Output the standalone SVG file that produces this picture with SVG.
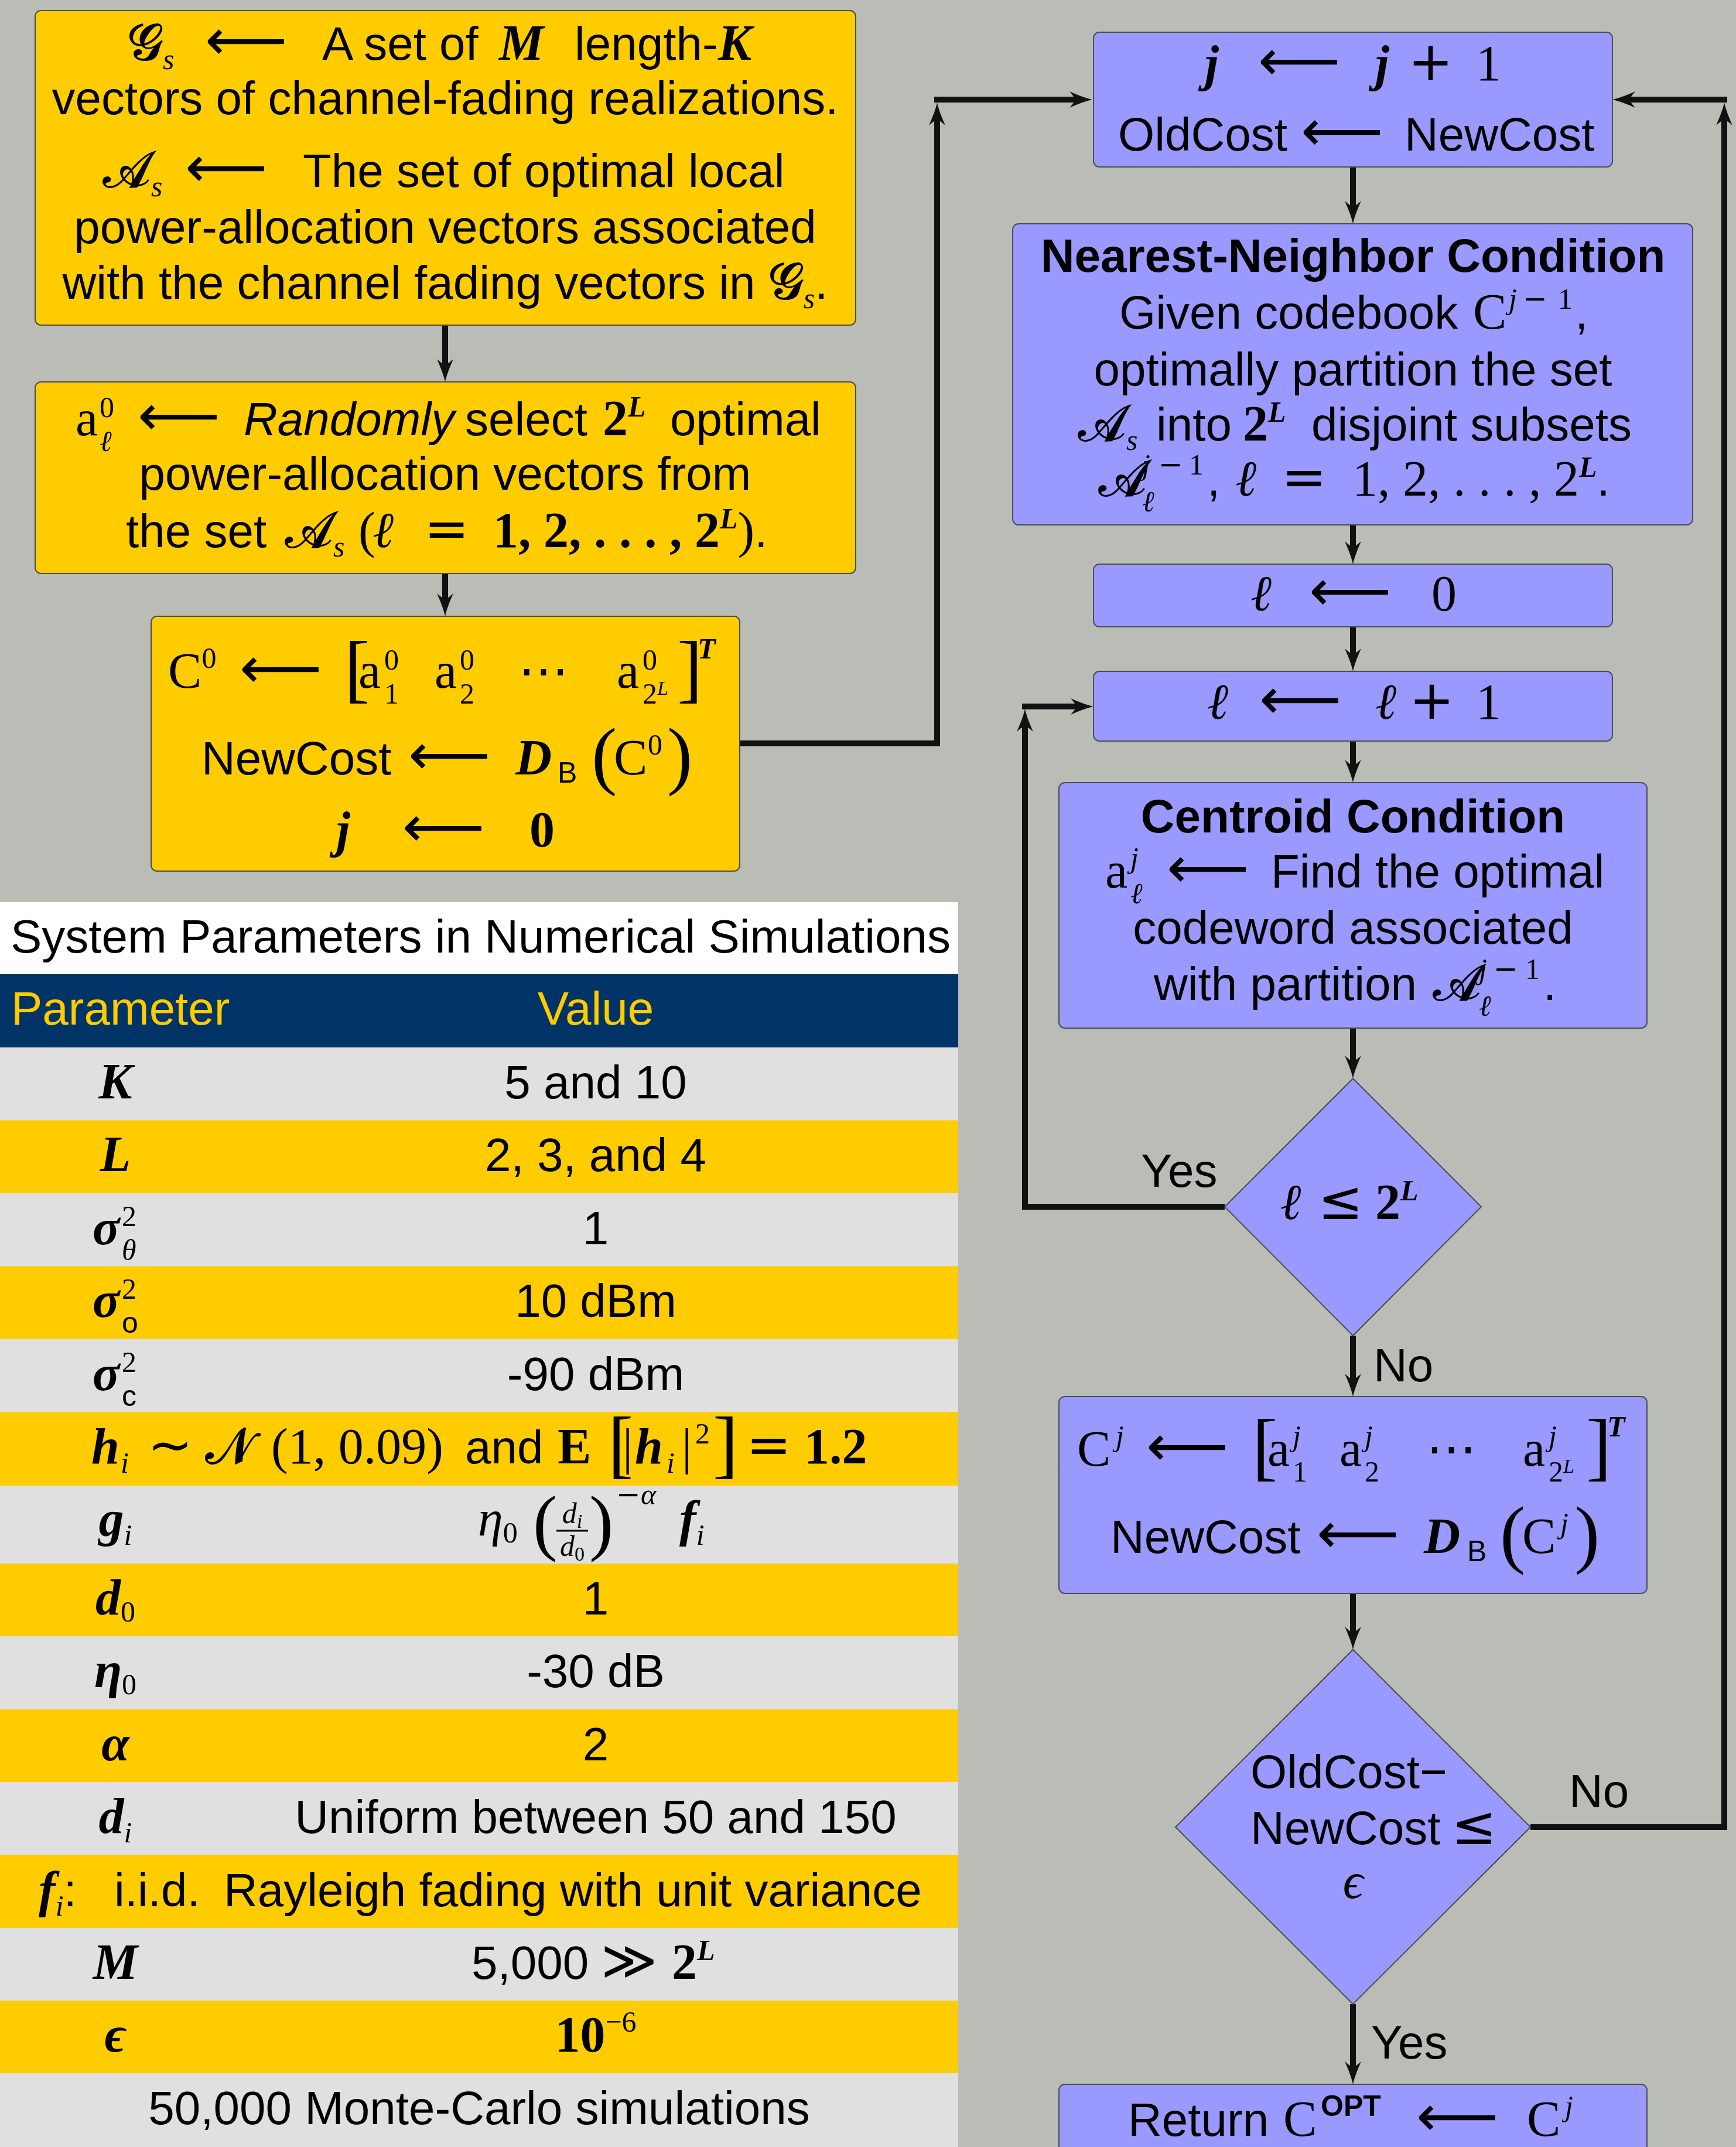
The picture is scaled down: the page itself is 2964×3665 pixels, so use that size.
<svg xmlns="http://www.w3.org/2000/svg" width="2964" height="3665" viewBox="0 0 2964 3665">
<defs>
<style>
.t{font-family:"Liberation Sans",Arial,sans-serif;font-size:80px;fill:#000}
.b{font-weight:bold}
.it{font-style:italic}
.mi{font-family:"Liberation Serif","DejaVu Serif",serif;font-style:italic;font-size:86px}
.mbi{font-family:"Liberation Serif","DejaVu Serif",serif;font-style:italic;font-weight:bold;font-size:86px}
.mr{font-family:"Liberation Serif","DejaVu Serif",serif;font-size:86px}
.mrb{font-family:"Liberation Serif","DejaVu Serif",serif;font-weight:bold;font-size:86px}
.op{font-family:"DejaVu Sans",sans-serif;font-size:92px}
.ar{font-family:"DejaVu Sans",sans-serif;font-size:98px}
.cal{font-family:"DejaVu Sans","DejaVu Serif","Noto Sans",serif;font-size:86px}
.s{font-size:50px}
.ss{font-size:34px}
.big{font-size:130px}
.yb{fill:#ffcc00;stroke:#4d4d4d;stroke-width:2}
.bb{fill:#9999ff;stroke:#4d4d4d;stroke-width:2}
.c{fill:none;stroke:#111;stroke-width:10}
.gr{fill:#e0e0e0}
.ye{fill:#ffcc00}
</style>
<marker id="ah" markerUnits="userSpaceOnUse" markerWidth="42" markerHeight="30" refX="10" refY="14" orient="auto" overflow="visible">
<path d="M40,14 C30,12 14,6 1,0 C8,8 10,11 10,14 C10,17 8,20 1,28 C14,22 30,16 40,14 Z" fill="#111"/>
</marker>
</defs>
<rect x="0" y="0" width="2964" height="3665" fill="#babdb6"/>

<g id="connectors">
<line class="c" x1="760" y1="555" x2="760" y2="622" marker-end="url(#ah)"/>
<line class="c" x1="760" y1="979" x2="760" y2="1022" marker-end="url(#ah)"/>
<polyline class="c" points="1263,1269 1600,1269 1600,205" marker-end="url(#ah)"/>
<line class="c" x1="1595" y1="170" x2="1835" y2="170" marker-end="url(#ah)"/>
<line class="c" x1="2310" y1="285" x2="2310" y2="352" marker-end="url(#ah)"/>
<line class="c" x1="2310" y1="896" x2="2310" y2="933" marker-end="url(#ah)"/>
<line class="c" x1="2310" y1="1070" x2="2310" y2="1116" marker-end="url(#ah)"/>
<line class="c" x1="2310" y1="1265" x2="2310" y2="1306" marker-end="url(#ah)"/>
<line class="c" x1="2310" y1="1755" x2="2310" y2="1811" marker-end="url(#ah)"/>
<polyline class="c" points="2091,2060 1750,2060 1750,1240" marker-end="url(#ah)"/>
<line class="c" x1="1745" y1="1206" x2="1837" y2="1206" marker-end="url(#ah)"/>
<line class="c" x1="2310" y1="2280" x2="2310" y2="2354" marker-end="url(#ah)"/>
<line class="c" x1="2310" y1="2720" x2="2310" y2="2786" marker-end="url(#ah)"/>
<polyline class="c" points="2613,3119 2944,3119 2944,205" marker-end="url(#ah)"/>
<line class="c" x1="2949" y1="170" x2="2783" y2="170" marker-end="url(#ah)"/>
<line class="c" x1="2310" y1="3421" x2="2310" y2="3528" marker-end="url(#ah)"/>
<text class="t" x="1948" y="2026">Yes</text>
<text class="t" x="2345" y="2358">No</text>
<text class="t" x="2679" y="3085">No</text>
<text class="t" x="2341" y="3514">Yes</text>
</g>

<g id="init-sets">
<rect class="yb" x="60" y="18" width="1401" height="537" rx="10"/>
<text class="t" y="102"><tspan class="cal" x="218">𝓖</tspan><tspan class="mi s" baseline-shift="-16">s</tspan><tspan class="ar" x="350">⟵</tspan><tspan x="550">A set of</tspan><tspan class="mbi" x="852">M</tspan><tspan x="981">length-</tspan><tspan class="mbi" x="1226">K</tspan></text>
<text class="t" x="760" y="195" text-anchor="middle">vectors of channel-fading realizations.</text>
<text class="t" y="319"><tspan class="cal" x="175">𝓐</tspan><tspan class="mi s" baseline-shift="-16">s</tspan><tspan class="ar" x="316">⟵</tspan><tspan x="517">The set of optimal local</tspan></text>
<text class="t" x="760" y="415" text-anchor="middle">power-allocation vectors associated</text>
<text class="t" x="760" y="510" text-anchor="middle">with the channel fading vectors in <tspan class="cal">𝓖</tspan><tspan class="mi s" baseline-shift="-16">s</tspan>.</text>
</g>

<g id="init-codebook">
<rect class="yb" x="60" y="652" width="1401" height="327" rx="10"/>
<text class="t" y="743"><tspan class="mr" x="129">a</tspan><tspan class="mr s" x="170" baseline-shift="31">0</tspan><tspan class="mi s" x="170" baseline-shift="-27">ℓ</tspan><tspan class="ar" x="235">⟵</tspan><tspan class="it" x="416">Randomly</tspan><tspan x="794">select</tspan><tspan class="mrb" x="1029">2</tspan><tspan class="mbi s" baseline-shift="32">L</tspan><tspan x="1144">optimal</tspan></text>
<text class="t" x="760" y="836" text-anchor="middle">power-allocation vectors from</text>
<text class="t" y="934"><tspan x="215">the set</tspan><tspan class="cal" x="486">𝓐</tspan><tspan class="mi s" baseline-shift="-16">s</tspan><tspan class="mr" x="612">(</tspan><tspan class="mi" x="636">ℓ</tspan><tspan class="op" x="724">=</tspan><tspan class="mrb" x="842">1, 2, . . . , 2</tspan><tspan class="mbi s" baseline-shift="32">L</tspan><tspan class="mr">)</tspan>.</text>
</g>

<g id="init-c0">
<rect class="yb" x="258" y="1052" width="1005" height="435" rx="10"/>
<text class="t" y="1174"><tspan class="mr" x="287">C</tspan><tspan class="mr s" baseline-shift="34">0</tspan><tspan class="ar" x="409">⟵</tspan><tspan class="mr big" x="588" baseline-shift="-10">[</tspan><tspan class="mr" x="612">a</tspan><tspan class="mr s" x="656" baseline-shift="31">0</tspan><tspan class="mr s" x="656" baseline-shift="-27">1</tspan><tspan class="mr" x="742">a</tspan><tspan class="mr s" x="785" baseline-shift="31">0</tspan><tspan class="mr s" x="785" baseline-shift="-27">2</tspan><tspan class="mr" x="885">⋯</tspan><tspan class="mr" x="1053">a</tspan><tspan class="mr s" x="1097" baseline-shift="31">0</tspan><tspan class="mr s" x="1097" baseline-shift="-27">2</tspan><tspan class="mi ss" baseline-shift="-12">L</tspan><tspan class="mr big" x="1156" baseline-shift="-10">]</tspan><tspan class="mbi s" x="1191" baseline-shift="50">T</tspan></text>
<text class="t" y="1322"><tspan x="344">NewCost</tspan><tspan class="ar" x="697">⟵</tspan><tspan class="mbi" x="880">D</tspan><tspan class="s" x="952" baseline-shift="-14">B</tspan><tspan class="mr big" x="1010" baseline-shift="-10">(</tspan><tspan class="mr" x="1048">C</tspan><tspan class="mr s" x="1106" baseline-shift="34">0</tspan><tspan class="mr big" x="1139" baseline-shift="-10">)</tspan></text>
<text class="t" y="1445"><tspan class="mbi" x="574">j</tspan><tspan class="ar" x="687">⟵</tspan><tspan class="mrb" x="904">0</tspan></text>
</g>

<g id="iterate">
<rect class="bb" x="1867" y="55" width="886" height="230" rx="10"/>
<text class="t" y="137"><tspan class="mbi" x="2057">j</tspan><tspan class="ar" x="2148">⟵</tspan><tspan class="mbi" x="2348">j</tspan><tspan class="op" x="2404">+</tspan><tspan class="mr" x="2520">1</tspan></text>
<text class="t" y="257"><tspan x="1909">OldCost</tspan><tspan class="ar" x="2221">⟵</tspan><tspan x="2398">NewCost</tspan></text>
</g>

<g id="nearest-neighbor">
<rect class="bb" x="1729" y="382" width="1161" height="514" rx="10"/>
<text class="t b" x="2310" y="464" text-anchor="middle">Nearest-Neighbor Condition</text>
<text class="t" y="561"><tspan x="1911">Given codebook</tspan><tspan class="mr" x="2515">C</tspan><tspan class="mi s" x="2576" baseline-shift="34">j</tspan><tspan class="op s" x="2600" baseline-shift="34">−</tspan><tspan class="mr s" x="2660" baseline-shift="34">1</tspan><tspan x="2689">,</tspan></text>
<text class="t" x="2310" y="658" text-anchor="middle">optimally partition the set</text>
<text class="t" y="752"><tspan class="cal" x="1840">𝓐</tspan><tspan class="mi s" baseline-shift="-16">s</tspan><tspan x="1974">into</tspan><tspan class="mrb" x="2122">2</tspan><tspan class="mbi s" baseline-shift="32">L</tspan><tspan x="2239">disjoint subsets</tspan></text>
<text class="t" y="846"><tspan class="cal" x="1875">𝓐</tspan><tspan class="mi s" x="1950" baseline-shift="36">j</tspan><tspan class="op s" x="1978" baseline-shift="36">−</tspan><tspan class="mr s" x="2030" baseline-shift="36">1</tspan><tspan class="mi s" x="1950" baseline-shift="-27">ℓ</tspan><tspan x="2061">,</tspan><tspan class="mi" x="2109">ℓ</tspan><tspan class="op" x="2188">=</tspan><tspan class="mr" x="2309">1, 2, . . . , 2</tspan><tspan class="mbi s" baseline-shift="32">L</tspan>.</text>
</g>

<g id="l-reset">
<rect class="bb" x="1867" y="963" width="886" height="107" rx="10"/>
<text class="t" y="1042"><tspan class="mi" x="2135">ℓ</tspan><tspan class="ar" x="2235">⟵</tspan><tspan class="mr" x="2444">0</tspan></text>
</g>

<g id="l-increment">
<rect class="bb" x="1867" y="1146" width="886" height="119" rx="10"/>
<text class="t" y="1227"><tspan class="mi" x="2061">ℓ</tspan><tspan class="ar" x="2150">⟵</tspan><tspan class="mi" x="2348">ℓ</tspan><tspan class="op" x="2406">+</tspan><tspan class="mr" x="2520">1</tspan></text>
</g>

<g id="centroid">
<rect class="bb" x="1808" y="1336" width="1004" height="419" rx="10"/>
<text class="t b" x="2310" y="1421" text-anchor="middle">Centroid  Condition</text>
<text class="t" y="1515"><tspan class="mr" x="1887">a</tspan><tspan class="mi s" x="1930" baseline-shift="34">j</tspan><tspan class="mi s" x="1930" baseline-shift="-27">ℓ</tspan><tspan class="ar" x="1992">⟵</tspan><tspan x="2170">Find the optimal</tspan></text>
<text class="t" x="2310" y="1611" text-anchor="middle">codeword associated</text>
<text class="t" y="1707"><tspan x="1970">with partition</tspan><tspan class="cal" x="2446">𝓐</tspan><tspan class="mi s" x="2525" baseline-shift="36">j</tspan><tspan class="op s" x="2550" baseline-shift="36">−</tspan><tspan class="mr s" x="2604" baseline-shift="36">1</tspan><tspan class="mi s" x="2525" baseline-shift="-27">ℓ</tspan><tspan x="2635">.</tspan></text>
</g>

<g id="decision-l">
<polygon class="bb" points="2310,1841 2529,2060 2310,2280 2091,2060"/>
<text class="t" y="2081"><tspan class="mbi" x="2187">ℓ</tspan><tspan class="op" x="2250">≤</tspan><tspan class="mrb" x="2348">2</tspan><tspan class="mbi s" baseline-shift="32">L</tspan></text>
</g>

<g id="update-codebook">
<rect class="bb" x="1808" y="2384" width="1004" height="336" rx="10"/>
<text class="t" y="2502"><tspan class="mr" x="1839">C</tspan><tspan class="mi s" x="1905" baseline-shift="34">j</tspan><tspan class="ar" x="1957">⟵</tspan><tspan class="mr big" x="2138" baseline-shift="-10">[</tspan><tspan class="mr" x="2164">a</tspan><tspan class="mi s" x="2207" baseline-shift="34">j</tspan><tspan class="mr s" x="2207" baseline-shift="-27">1</tspan><tspan class="mr" x="2287">a</tspan><tspan class="mi s" x="2330" baseline-shift="34">j</tspan><tspan class="mr s" x="2330" baseline-shift="-27">2</tspan><tspan class="mr" x="2435">⋯</tspan><tspan class="mr" x="2600">a</tspan><tspan class="mi s" x="2644" baseline-shift="34">j</tspan><tspan class="mr s" x="2644" baseline-shift="-27">2</tspan><tspan class="mi ss" baseline-shift="-12">L</tspan><tspan class="mr big" x="2708" baseline-shift="-10">]</tspan><tspan class="mbi s" x="2744" baseline-shift="50">T</tspan></text>
<text class="t" y="2651"><tspan x="1896">NewCost</tspan><tspan class="ar" x="2248">⟵</tspan><tspan class="mbi" x="2431">D</tspan><tspan class="s" x="2505" baseline-shift="-14">B</tspan><tspan class="mr big" x="2561" baseline-shift="-10">(</tspan><tspan class="mr" x="2599">C</tspan><tspan class="mi s" x="2664" baseline-shift="34">j</tspan><tspan class="mr big" x="2688" baseline-shift="-10">)</tspan></text>
</g>

<g id="decision-cost">
<polygon class="bb" points="2310,2816 2613,3119 2310,3421 2007,3119"/>
<text class="t" x="2135" y="3052">OldCost−</text>
<text class="t" y="3148"><tspan x="2135">NewCost</tspan><tspan class="op" x="2478">≤</tspan></text>
<text class="t" x="2310" y="3240" text-anchor="middle"><tspan class="mi">ϵ</tspan></text>
</g>

<g id="return">
<rect class="bb" x="1808" y="3558" width="1004" height="130" rx="10"/>
<text class="t" y="3646"><tspan x="1926">Return</tspan><tspan class="mr" x="2191">C</tspan><tspan class="s b" x="2255" baseline-shift="34">OPT</tspan><tspan class="ar" x="2418">⟵</tspan><tspan class="mr" x="2607">C</tspan><tspan class="mi s" x="2672" baseline-shift="34">j</tspan></text>
</g>

<g id="parameter-table">
<rect x="0" y="1540" width="1636" height="123" fill="#ffffff"/>
<text class="t" x="18" y="1626">System Parameters in Numerical Simulations</text>
<rect x="0" y="1663" width="1636" height="125" fill="#003366"/>
<text class="t" x="19" y="1749" style="fill:#ffcc00">Parameter</text>
<text class="t" x="1017" y="1749" text-anchor="middle" style="fill:#ffcc00">Value</text>
<rect class="gr" x="0" y="1788" width="1636" height="125"/>
<rect class="ye" x="0" y="1912.5" width="1636" height="124.5"/>
<rect class="gr" x="0" y="2036.6" width="1636" height="125"/>
<rect class="ye" x="0" y="2161.5" width="1636" height="124.5"/>
<rect class="gr" x="0" y="2285.7" width="1636" height="125"/>
<rect class="ye" x="0" y="2410.6" width="1636" height="125.6"/>
<rect class="gr" x="0" y="2536" width="1636" height="133.5"/>
<rect class="ye" x="0" y="2669.5" width="1636" height="123.5"/>
<rect class="gr" x="0" y="2793" width="1636" height="125"/>
<rect class="ye" x="0" y="2918" width="1636" height="124"/>
<rect class="gr" x="0" y="3042" width="1636" height="124.6"/>
<rect class="ye" x="0" y="3166.6" width="1636" height="124.4"/>
<rect class="gr" x="0" y="3291" width="1636" height="124.5"/>
<rect class="ye" x="0" y="3415.5" width="1636" height="123.5"/>
<rect class="gr" x="0" y="3539" width="1636" height="126"/>

<text class="t" x="197" y="1875" text-anchor="middle"><tspan class="mbi">K</tspan></text>
<text class="t" x="1017" y="1875" text-anchor="middle">5 and 10</text>
<text class="t" x="197" y="1999" text-anchor="middle"><tspan class="mbi">L</tspan></text>
<text class="t" x="1017" y="1999" text-anchor="middle">2, 3, and 4</text>
<text class="t" y="2124"><tspan class="mbi" x="158">σ</tspan><tspan class="mr s" x="208" baseline-shift="31">2</tspan><tspan class="mi s" x="208" baseline-shift="-27">θ</tspan></text>
<text class="t" x="1017" y="2124" text-anchor="middle">1</text>
<text class="t" y="2248"><tspan class="mbi" x="158">σ</tspan><tspan class="mr s" x="208" baseline-shift="31">2</tspan><tspan class="s" x="208" baseline-shift="-27">o</tspan></text>
<text class="t" x="1017" y="2248" text-anchor="middle">10 dBm</text>
<text class="t" y="2373"><tspan class="mbi" x="158">σ</tspan><tspan class="mr s" x="208" baseline-shift="31">2</tspan><tspan class="s" x="208" baseline-shift="-27">c</tspan></text>
<text class="t" x="1017" y="2373" text-anchor="middle">-90 dBm</text>
<text class="t" y="2498"><tspan class="mbi" x="156">h</tspan><tspan class="mi s" x="206" baseline-shift="-16">i</tspan><tspan class="op" x="252">∼</tspan><tspan class="cal" x="350">𝓝</tspan><tspan class="mr" x="463">(1, 0.09)</tspan><tspan x="794">and</tspan><tspan class="mrb" x="952">E</tspan><tspan class="mr big" x="1038" baseline-shift="-10">[</tspan><tspan class="mr" x="1063">|</tspan><tspan class="mbi" x="1084">h</tspan><tspan class="mi s" x="1138" baseline-shift="-16">i</tspan><tspan class="mr" x="1164">|</tspan><tspan class="mr s" x="1187" baseline-shift="34">2</tspan><tspan class="mr big" x="1217" baseline-shift="-10">]</tspan><tspan class="op" x="1274">=</tspan><tspan class="mrb" x="1373">1.2</tspan></text>
<text class="t" x="197" y="2621" text-anchor="middle"><tspan class="mbi">g</tspan><tspan class="mi s" baseline-shift="-16">i</tspan></text>
<text class="t" x="816" y="2621"><tspan class="mi">η</tspan><tspan class="mr s" baseline-shift="-12">0</tspan></text>
<text class="t" x="910" y="2640"><tspan class="mr" style="font-size:124px">(</tspan></text>
<text class="t" x="977" y="2600" text-anchor="middle"><tspan class="mi" style="font-size:50px">d</tspan><tspan class="mi" style="font-size:34px" baseline-shift="-8">i</tspan></text>
<line x1="950" y1="2613" x2="1004" y2="2613" stroke="#000" stroke-width="3"/>
<text class="t" x="977" y="2656" text-anchor="middle"><tspan class="mi" style="font-size:50px">d</tspan><tspan class="mr" style="font-size:34px" baseline-shift="-8">0</tspan></text>
<text class="t" x="1006" y="2640"><tspan class="mr" style="font-size:124px">)</tspan></text>
<text class="t" x="1052" y="2568"><tspan class="op s">−</tspan><tspan class="mi s">α</tspan></text>
<text class="t" x="1160" y="2621"><tspan class="mbi">f</tspan><tspan class="mi s" baseline-shift="-16">i</tspan></text>
<text class="t" x="197" y="2756" text-anchor="middle"><tspan class="mbi">d</tspan><tspan class="mr s" baseline-shift="-12">0</tspan></text>
<text class="t" x="1017" y="2756" text-anchor="middle">1</text>
<text class="t" x="197" y="2880" text-anchor="middle"><tspan class="mbi">η</tspan><tspan class="mr s" baseline-shift="-12">0</tspan></text>
<text class="t" x="1017" y="2880" text-anchor="middle">-30 dB</text>
<text class="t" x="197" y="3005" text-anchor="middle"><tspan class="mbi">α</tspan></text>
<text class="t" x="1017" y="3005" text-anchor="middle">2</text>
<text class="t" x="197" y="3129" text-anchor="middle"><tspan class="mbi">d</tspan><tspan class="mi s" baseline-shift="-16">i</tspan></text>
<text class="t" x="1017" y="3129" text-anchor="middle">Uniform between 50 and 150</text>
<text class="t" y="3254"><tspan class="mbi" x="66">f</tspan><tspan class="mi s" baseline-shift="-16">i</tspan>:<tspan x="195">i.i.d.</tspan><tspan x="382">Rayleigh fading with unit variance</tspan></text>
<text class="t" x="197" y="3378" text-anchor="middle"><tspan class="mbi">M</tspan></text>
<text class="t" y="3378"><tspan x="805">5,000</tspan><tspan class="op" x="1026">≫</tspan><tspan class="mrb" x="1147">2</tspan><tspan class="mbi s" baseline-shift="32">L</tspan></text>
<text class="t" x="197" y="3502" text-anchor="middle"><tspan class="mbi">ϵ</tspan></text>
<text class="t" x="1017" y="3502" text-anchor="middle"><tspan class="mrb">10</tspan><tspan class="mr s" baseline-shift="34">−6</tspan></text>
<text class="t" x="818" y="3626" text-anchor="middle">50,000 Monte-Carlo simulations</text>
</g>
</svg>
